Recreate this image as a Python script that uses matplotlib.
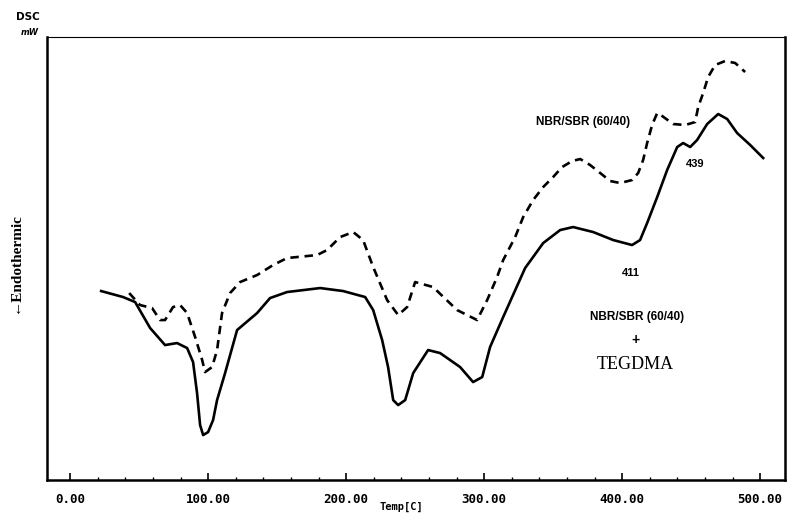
import numpy as np
import matplotlib.pyplot as plt
from matplotlib.ticker import MultipleLocator, FormatStrFormatter

# DSC curves: temperature (C) and signal (arbitrary units)
temp_tegdma = [22.5, 38.4, 47.1, 58.0, 68.8, 77.5, 84.8, 89.1, 92.0, 94.2,
               96.4, 100.0, 103.6, 106.5, 112.3, 121.0, 135.5, 144.9, 157.2, 181.2,
               197.8, 213.8, 219.6, 226.1, 230.4, 234.1, 237.7, 242.8, 248.6, 259.4,
               268.1, 282.6, 292.0, 298.6, 304.3, 313.8, 329.7, 342.8, 355.1, 364.5,
               379.0, 393.5, 407.2, 413.0, 418.1, 425.4, 432.6, 439.9, 444.2, 449.3,
               454.3, 461.6, 469.6, 476.1, 483.3, 492.8, 502.2]
dsc_tegdma = [189, 183, 178, 152, 135, 137, 132, 118, 87, 55,
              45, 48, 60, 80, 107, 150, 167, 182, 188, 192,
              189, 183, 170, 140, 113, 80, 75, 80, 107, 130,
              127, 113, 98, 103, 133, 163, 212, 237, 250, 253,
              248, 240, 235, 240, 257, 283, 310, 333, 337, 333,
              340, 356, 366, 361, 347, 335, 322]

temp_blend = [42.8, 50.7, 59.4, 65.2, 68.8, 74.6, 79.7, 84.8, 90.6, 95.7,
              97.8, 102.9, 106.5, 110.1, 115.9, 123.2, 135.5, 147.1, 157.2, 179.0,
              186.2, 195.7, 205.1, 212.3, 219.6, 229.7, 237.7, 244.2, 250.0, 263.0,
              280.4, 294.9, 302.2, 309.4, 313.8, 322.5, 328.3, 335.5, 342.8, 350.0,
              356.5, 363.8, 369.6, 376.8, 384.1, 391.3, 398.6, 407.2, 411.6, 415.2,
              418.1, 421.7, 425.4, 429.0, 437.0, 445.7, 452.9, 455.1, 458.7, 462.3,
              467.4, 474.6, 481.9, 489.1]
dsc_blend = [187, 175, 172, 160, 160, 173, 175, 167, 143, 120,
             108, 113, 130, 167, 187, 198, 205, 215, 222, 225,
             230, 243, 248, 240, 213, 180, 165, 173, 198, 193,
             170, 160, 180, 203, 220, 243, 263, 280, 293, 303,
             313, 319, 321, 315, 307, 299, 297, 300, 307, 320,
             337, 355, 367, 364, 356, 355, 358, 373, 387, 403,
             415, 419, 417, 408]

fig = plt.figure(figsize=(7.88, 5.14), dpi=100)
ax = fig.add_axes([0.0597, 0.066, 0.9365, 0.862])

ax.plot(temp_tegdma, dsc_tegdma, color='black', lw=1.9, solid_joinstyle='round')
ax.plot(temp_blend, dsc_blend, color='black', lw=1.9, linestyle=(0, (3.2, 2.2)),
        dash_joinstyle='round')

ax.set_xlim(-16.7, 518)
ax.set_ylim(0, 443)

# axis ticks and frame
ax.xaxis.set_major_locator(MultipleLocator(100))
ax.xaxis.set_minor_locator(MultipleLocator(20))
ax.xaxis.set_major_formatter(FormatStrFormatter('%.2f'))
ax.tick_params(axis='x', which='major', direction='in', length=5, width=1.2, pad=9,
               labelsize=9)
ax.tick_params(axis='x', which='minor', direction='in', length=2.5, width=1)
ax.set_yticks([])
for lab in ax.get_xticklabels():
    lab.set_fontfamily('DejaVu Sans Mono')
    lab.set_fontweight('bold')
for side in ['left', 'bottom', 'right']:
    ax.spines[side].set_linewidth(1.8)
ax.spines['top'].set_linewidth(0.8)

# labels
ax.text(0.48, -0.06, 'Temp[C]', transform=ax.transAxes, ha='center', va='center',
        fontsize=7.5, fontweight='bold', family='DejaVu Sans Mono')
fig.text(0.036, 0.967, 'DSC', ha='center', va='center', fontsize=7.5, fontweight='bold')
fig.text(0.038, 0.937, 'mW', ha='center', va='center', fontsize=6, fontweight='bold',
         style='italic')
fig.text(0.019, 0.49, '←Endothermic', rotation=90, ha='center', va='center',
         fontsize=11, fontweight='bold', family=['Liberation Serif', 'DejaVu Serif'])

# curve annotations
ax.text(371.7, 358, 'NBR/SBR (60/40)', ha='center', va='center', fontsize=8.5,
        fontweight='bold', family='Liberation Sans')
ax.text(452.9, 316, '439', ha='center', va='center', fontsize=8,
        fontweight='bold', family='Liberation Sans')
ax.text(406.5, 207, '411', ha='center', va='center', fontsize=8,
        fontweight='bold', family='Liberation Sans')
ax.text(410.9, 163, 'NBR/SBR (60/40)', ha='center', va='center', fontsize=8.5,
        fontweight='bold', family='Liberation Sans')
ax.text(409.4, 140, '+', ha='center', va='center', fontsize=10,
        fontweight='bold', family='Liberation Sans')
ax.text(409.4, 116, 'TEGDMA', ha='center', va='center', fontsize=13,
        family='Liberation Serif')

plt.savefig('out.png', dpi=100)
